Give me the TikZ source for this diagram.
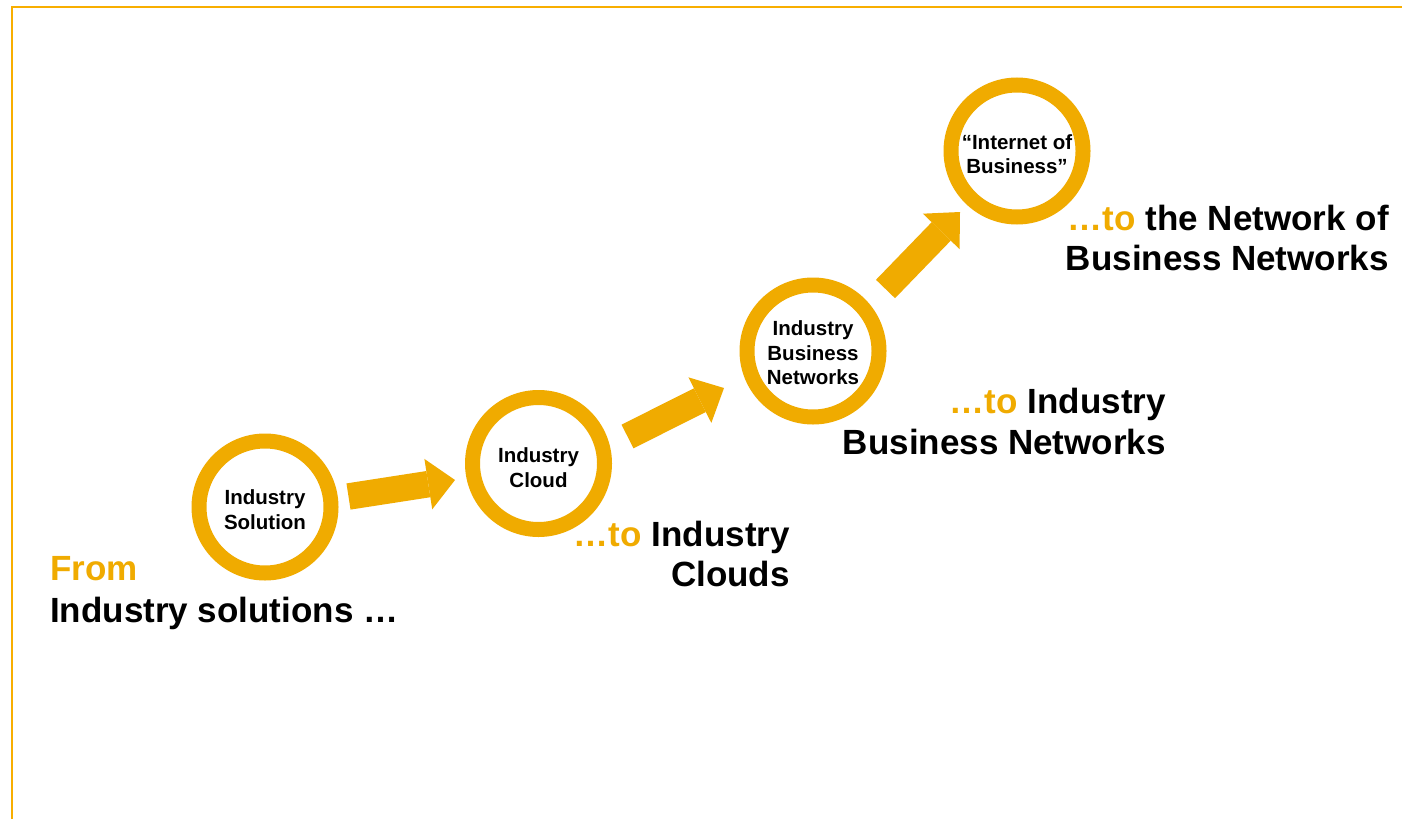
\documentclass[tikz,border=0pt]{standalone}
\usepackage{fontspec}
\setmainfont{Liberation Sans}
\usetikzlibrary{arrows.meta}
\definecolor{gold}{HTML}{F0AB00}
\definecolor{framegold}{HTML}{F8AE00}
\begin{document}
\begin{tikzpicture}[x=1pt,y=-1pt,
  ring/.style={circle, draw=gold, line width=15pt, minimum size=132pt, inner sep=0pt},
  ctext/.style={inner sep=0pt, align=center, text=black, font=\fontsize{20.5}{24.5}\selectfont\bfseries},
  bigarrow/.style={draw=gold, line width=26.5pt, -{Triangle[length=27pt,width=51pt,line width=0pt]}},
  biglabel/.style={inner sep=0pt, font=\fontsize{35}{41}\selectfont\bfseries}]
\useasboundingbox (0,0) rectangle (1402,819);
\fill[white] (0,0) rectangle (1402,819);
% frame
\coordinate (fbl) at (11.5,819);
\coordinate (ftl) at (11.5,6.5);
\coordinate (ftr) at (1402,6.5);
\draw[framegold, line width=2pt] (fbl) -- (ftl) -- (ftr);
% circles
\node[ring] (c1) at (265,507) {};
\node[ring] (c2) at (538.5,463.5) {};
\node[ring] (c3) at (813,351) {};
\node[ring] (c4) at (1017,151) {};
\node[ctext] (t1) at ([yshift=-2.5pt]c1.center) {Industry\\Solution};
\node[ctext] (t2) at ([yshift=-4pt]c2.center) {Industry\\Cloud};
\node[ctext] (t3) at ([yshift=-2pt]c3.center) {Industry\\Business\\Networks};
\node[ctext] (t4) at ([yshift=-3pt]c4.center) {“Internet of\\Business”};
% arrows
\coordinate (a1s) at (348.5,496.5);
\coordinate (a1e) at (455,480);
\coordinate (a2s) at (627.5,436.5);
\coordinate (a2e) at (724,388);
\coordinate (a3s) at (885.5,289);
\coordinate (a3e) at (960,212);
\draw[bigarrow] (a1s) -- (a1e);
\draw[bigarrow] (a2s) -- (a2e);
\draw[bigarrow] (a3s) -- (a3e);
% labels
\node[biglabel, anchor=base west, text=gold] (from) at (50,580) {From};
\node[biglabel, anchor=base west] (fromb) at (50,622) {Industry solutions …};
\node[biglabel, anchor=base east] (cl1) at (790,546) {\textcolor{gold}{…to} Industry};
\node[biglabel, anchor=base east] (cl2) at (790,586) {Clouds};
\node[biglabel, anchor=base east] (bn1) at (1166,413) {\textcolor{gold}{…to} Industry};
\node[biglabel, anchor=base east] (bn2) at (1166,454) {Business Networks};
\node[biglabel, anchor=base east] (nb1) at (1389,230) {\textcolor{gold}{…to} the Network of};
\node[biglabel, anchor=base east] (nb2) at (1389,270) {Business Networks};
\end{tikzpicture}
\end{document}
